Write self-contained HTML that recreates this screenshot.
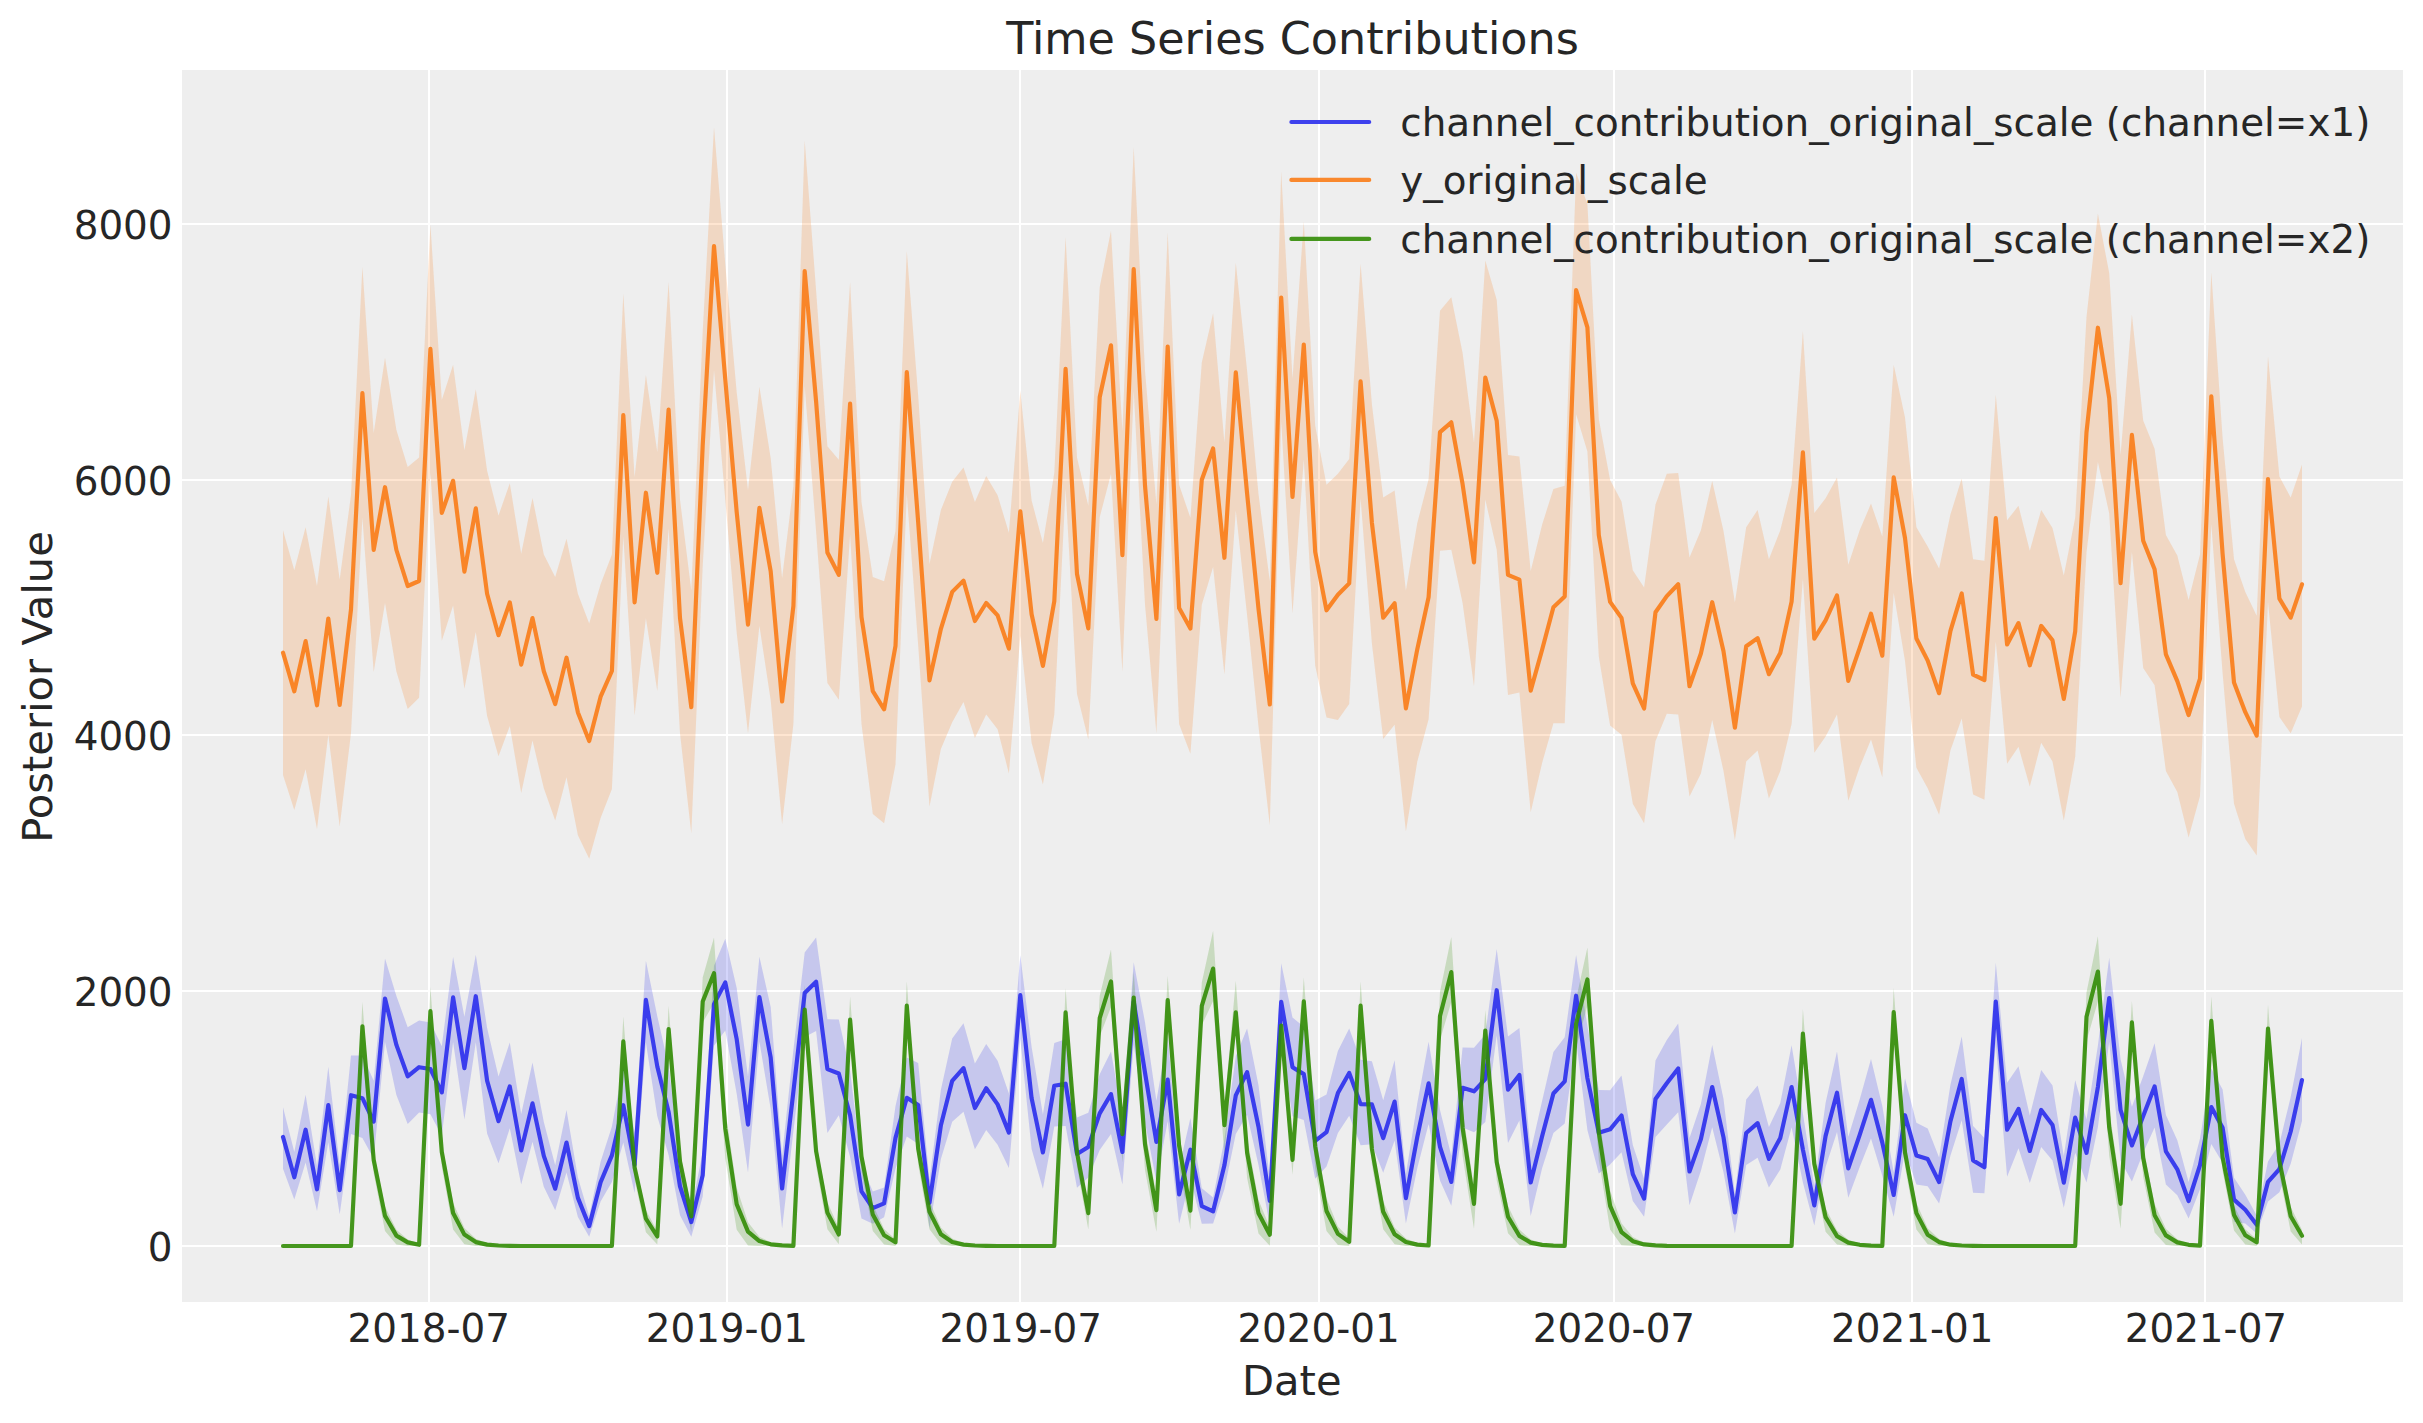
<!DOCTYPE html>
<html lang="en"><head><meta charset="utf-8"><title>Time Series Contributions</title>
<style>html,body{margin:0;padding:0;background:#fff}body{width:2423px;height:1423px;overflow:hidden}</style></head>
<body>
<svg width="2423" height="1423" viewBox="0 0 2423 1423" style="display:block">
<rect x="0" y="0" width="2423" height="1423" fill="#ffffff"/>
<rect x="182.0" y="70.0" width="2221.0" height="1232.0" fill="#eeeeee"/>
<g stroke="#ffffff" stroke-width="2.1" fill="none">
<line x1="429.0" y1="70.0" x2="429.0" y2="1302.0"/>
<line x1="727.0" y1="70.0" x2="727.0" y2="1302.0"/>
<line x1="1020.0" y1="70.0" x2="1020.0" y2="1302.0"/>
<line x1="1319.0" y1="70.0" x2="1319.0" y2="1302.0"/>
<line x1="1614.0" y1="70.0" x2="1614.0" y2="1302.0"/>
<line x1="1912.0" y1="70.0" x2="1912.0" y2="1302.0"/>
<line x1="2205.0" y1="70.0" x2="2205.0" y2="1302.0"/>
<line x1="182.0" y1="1246.0" x2="2403.0" y2="1246.0"/>
<line x1="182.0" y1="991.0" x2="2403.0" y2="991.0"/>
<line x1="182.0" y1="735.0" x2="2403.0" y2="735.0"/>
<line x1="182.0" y1="480.0" x2="2403.0" y2="480.0"/>
<line x1="182.0" y1="224.0" x2="2403.0" y2="224.0"/>
</g>
<clipPath id="c"><rect x="182.0" y="70.0" width="2221.0" height="1232.0"/></clipPath>
<g clip-path="url(#c)">
<polygon points="283.0,1107.3 294.3,1152.1 305.6,1094.7 317.0,1165.7 328.3,1066.7 339.7,1165.3 351.0,1055.6 362.4,1055.5 373.7,1080.8 385.0,958.6 396.4,996.1 407.7,1027.2 419.1,1020.6 430.4,1022.4 441.8,1046.3 453.1,956.9 464.4,1016.7 475.8,954.8 487.1,1027.9 498.5,1076.6 509.8,1042.5 521.2,1113.9 532.5,1062.5 543.8,1122.0 555.2,1165.2 566.5,1110.1 577.9,1177.4 589.2,1216.1 600.6,1161.7 611.9,1126.6 623.3,1066.2 634.6,1133.2 645.9,960.8 657.3,1016.3 668.6,1066.0 680.0,1158.5 691.3,1209.0 702.7,1152.2 714.0,965.8 725.3,938.8 736.7,988.0 748.0,1076.6 759.4,956.7 770.7,1007.0 782.1,1155.7 793.4,1050.0 804.7,952.4 816.1,937.4 827.4,1019.2 838.8,1019.6 850.1,1070.7 861.5,1165.1 872.8,1191.5 884.1,1187.5 895.5,1106.1 906.8,1057.4 918.2,1062.9 929.5,1180.2 940.9,1089.7 952.2,1038.5 963.5,1023.3 974.9,1063.5 986.2,1044.1 997.6,1060.8 1008.9,1093.4 1020.3,955.3 1031.6,1046.9 1042.9,1114.4 1054.3,1043.1 1065.6,1039.2 1077.0,1117.6 1088.3,1112.8 1099.7,1074.3 1111.0,1051.6 1122.4,1116.4 1133.7,962.3 1145.0,1022.2 1156.4,1100.7 1167.7,1036.1 1179.1,1168.0 1190.4,1118.1 1201.8,1188.2 1213.1,1197.4 1224.4,1139.8 1235.8,1056.0 1247.1,1028.5 1258.5,1085.3 1269.8,1178.5 1281.2,963.3 1292.5,1017.5 1303.8,1026.7 1315.2,1100.5 1326.5,1094.4 1337.9,1051.0 1349.2,1028.4 1360.6,1059.7 1371.9,1061.2 1383.2,1100.2 1394.6,1060.2 1405.9,1174.3 1417.3,1103.3 1428.6,1041.7 1440.0,1110.0 1451.3,1155.8 1462.6,1047.5 1474.0,1047.7 1485.3,1034.4 1496.7,949.0 1508.0,1036.6 1519.4,1027.9 1530.7,1151.2 1542.1,1101.0 1553.4,1052.1 1564.7,1037.3 1576.1,955.1 1587.4,1026.0 1598.8,1089.9 1610.1,1090.3 1621.5,1075.4 1632.8,1144.9 1644.1,1178.9 1655.5,1060.6 1666.8,1040.1 1678.2,1023.5 1689.5,1137.9 1700.9,1104.1 1712.2,1045.1 1723.5,1098.9 1734.9,1194.2 1746.2,1099.6 1757.6,1085.4 1768.9,1126.9 1780.3,1103.1 1791.6,1045.2 1802.9,1113.5 1814.3,1185.9 1825.6,1102.8 1837.0,1051.6 1848.3,1136.8 1859.7,1099.5 1871.0,1058.9 1882.3,1105.9 1893.7,1172.3 1905.0,1078.3 1916.4,1122.8 1927.7,1128.6 1939.1,1157.5 1950.4,1085.1 1961.7,1036.5 1973.1,1125.9 1984.4,1138.0 1995.8,962.8 2007.1,1082.8 2018.5,1066.2 2029.8,1115.5 2041.2,1070.0 2052.5,1085.6 2063.8,1156.0 2075.2,1080.3 2086.5,1119.6 2097.9,1045.5 2109.2,957.8 2120.6,1059.6 2131.9,1106.7 2143.2,1076.3 2154.6,1043.3 2165.9,1115.1 2177.3,1140.2 2188.6,1182.0 2200.0,1138.5 2211.3,1068.6 2222.6,1089.4 2234.0,1177.7 2245.3,1194.7 2256.7,1215.5 2268.0,1161.5 2279.4,1143.8 2290.7,1096.9 2302.0,1037.9 2302.0,1120.9 2290.7,1163.8 2279.4,1192.3 2268.0,1201.4 2256.7,1233.4 2245.3,1223.6 2234.0,1221.8 2222.6,1162.7 2211.3,1143.9 2200.0,1189.3 2188.6,1218.5 2177.3,1195.3 2165.9,1184.6 2154.6,1127.4 2143.2,1152.8 2131.9,1181.5 2120.6,1160.7 2109.2,1042.1 2097.9,1127.1 2086.5,1182.5 2075.2,1152.8 2063.8,1207.7 2052.5,1160.5 2041.2,1147.1 2029.8,1183.0 2018.5,1148.3 2007.1,1176.7 1995.8,1043.9 1984.4,1193.2 1973.1,1192.7 1961.7,1120.3 1950.4,1155.7 1939.1,1203.6 1927.7,1186.3 1916.4,1184.6 1905.0,1150.7 1893.7,1216.7 1882.3,1175.8 1871.0,1138.5 1859.7,1167.0 1848.3,1197.7 1837.0,1132.1 1825.6,1167.1 1814.3,1225.5 1802.9,1182.6 1791.6,1127.2 1780.3,1169.5 1768.9,1187.5 1757.6,1157.7 1746.2,1164.9 1734.9,1233.4 1723.5,1172.3 1712.2,1127.2 1700.9,1170.8 1689.5,1205.3 1678.2,1112.2 1666.8,1124.5 1655.5,1137.1 1644.1,1216.8 1632.8,1201.1 1621.5,1152.3 1610.1,1164.6 1598.8,1173.6 1587.4,1129.9 1576.1,1040.3 1564.7,1123.5 1553.4,1133.0 1542.1,1168.2 1530.7,1216.0 1519.4,1120.4 1508.0,1143.0 1496.7,1035.4 1485.3,1121.9 1474.0,1132.3 1462.6,1127.4 1451.3,1205.8 1440.0,1180.4 1428.6,1123.9 1417.3,1168.1 1405.9,1223.4 1394.6,1140.4 1383.2,1172.7 1371.9,1144.2 1360.6,1145.3 1349.2,1115.8 1337.9,1133.0 1326.5,1166.4 1315.2,1178.8 1303.8,1119.9 1292.5,1116.2 1281.2,1043.7 1269.8,1225.0 1258.5,1164.9 1247.1,1114.7 1235.8,1134.0 1224.4,1189.3 1213.1,1223.6 1201.8,1223.7 1190.4,1178.3 1179.1,1223.7 1167.7,1121.3 1156.4,1181.6 1145.0,1122.3 1133.7,1044.4 1122.4,1184.4 1111.0,1134.1 1099.7,1149.9 1088.3,1177.4 1077.0,1187.8 1065.6,1126.0 1054.3,1126.4 1042.9,1188.8 1031.6,1149.1 1020.3,1038.7 1008.9,1168.1 997.6,1144.7 986.2,1130.0 974.9,1149.3 963.5,1111.8 952.2,1121.8 940.9,1158.9 929.5,1228.0 918.2,1144.1 906.8,1136.4 895.5,1168.7 884.1,1217.3 872.8,1223.7 861.5,1218.6 850.1,1156.9 838.8,1115.3 827.4,1133.1 816.1,1031.0 804.7,1037.1 793.4,1131.1 782.1,1228.6 770.7,1108.9 759.4,1041.5 748.0,1172.5 736.7,1093.8 725.3,1030.5 714.0,1045.8 702.7,1196.6 691.3,1236.7 680.0,1215.2 668.6,1155.1 657.3,1116.2 645.9,1042.4 634.6,1193.0 623.3,1142.5 611.9,1182.0 600.6,1201.6 589.2,1236.7 577.9,1217.0 566.5,1172.4 555.2,1210.2 543.8,1186.7 532.5,1141.7 521.2,1184.4 509.8,1128.3 498.5,1163.2 487.1,1133.5 475.8,1042.3 464.4,1119.6 453.1,1042.0 441.8,1135.8 430.4,1114.2 419.1,1112.6 407.7,1124.0 396.4,1095.1 385.0,1042.0 373.7,1158.7 362.4,1138.0 351.0,1133.9 339.7,1214.2 328.3,1142.3 317.0,1211.1 305.6,1162.4 294.3,1199.6 283.0,1168.7" fill="#2a2eec" fill-opacity="0.2" stroke="none"/>
<polygon points="283.0,530.3 294.3,570.2 305.6,527.2 317.0,585.9 328.3,496.4 339.7,579.6 351.0,494.9 362.4,266.8 373.7,433.1 385.0,357.8 396.4,429.9 407.7,466.9 419.1,457.5 430.4,224.5 441.8,400.1 453.1,364.7 464.4,450.3 475.8,389.2 487.1,470.7 498.5,515.6 509.8,483.3 521.2,553.8 532.5,498.0 543.8,554.5 555.2,577.1 566.5,538.8 577.9,593.7 589.2,623.5 600.6,584.3 611.9,554.5 623.3,293.5 634.6,477.0 645.9,375.0 657.3,451.9 668.6,281.9 680.0,499.7 691.3,590.6 702.7,331.5 714.0,127.3 725.3,264.5 736.7,392.3 748.0,490.2 759.4,386.7 770.7,458.2 782.1,578.0 793.4,485.9 804.7,140.4 816.1,290.4 827.4,446.2 838.8,459.7 850.1,281.9 861.5,502.2 872.8,577.1 884.1,581.2 895.5,531.0 906.8,251.1 918.2,396.0 929.5,563.9 940.9,509.9 952.2,481.7 963.5,467.6 974.9,502.1 986.2,476.0 997.6,495.2 1008.9,532.8 1020.3,390.7 1031.6,500.5 1042.9,542.9 1054.3,472.9 1065.6,237.0 1077.0,457.5 1088.3,505.8 1099.7,287.2 1111.0,230.8 1122.4,431.1 1133.7,147.0 1145.0,370.8 1156.4,504.5 1167.7,232.3 1179.1,484.8 1190.4,517.8 1201.8,362.5 1213.1,313.2 1224.4,442.4 1235.8,262.7 1247.1,370.7 1258.5,494.0 1269.8,581.2 1281.2,171.2 1292.5,378.7 1303.8,221.4 1315.2,425.7 1326.5,484.8 1337.9,473.8 1349.2,459.1 1360.6,263.7 1371.9,404.2 1383.2,497.4 1394.6,490.5 1405.9,590.6 1417.3,523.1 1428.6,479.2 1440.0,310.7 1451.3,297.3 1462.6,353.1 1474.0,442.5 1485.3,260.6 1496.7,299.8 1508.0,455.0 1519.4,456.6 1530.7,571.1 1542.1,524.7 1553.4,488.9 1564.7,485.8 1576.1,172.7 1587.4,204.1 1598.8,419.0 1610.1,480.1 1621.5,501.4 1632.8,570.2 1644.1,587.4 1655.5,504.6 1666.8,473.8 1678.2,472.9 1689.5,557.6 1700.9,530.3 1712.2,481.1 1723.5,531.0 1734.9,602.5 1746.2,527.2 1757.6,509.9 1768.9,559.2 1780.3,530.3 1791.6,484.8 1802.9,331.1 1814.3,513.1 1825.6,498.3 1837.0,477.6 1848.3,564.8 1859.7,530.3 1871.0,503.6 1882.3,536.6 1893.7,364.7 1905.0,417.4 1916.4,527.2 1927.7,546.6 1939.1,568.6 1950.4,514.6 1961.7,478.6 1973.1,559.2 1984.4,560.8 1995.8,394.8 2007.1,520.3 2018.5,505.8 2029.8,550.7 2041.2,509.9 2052.5,528.1 2063.8,575.5 2075.2,517.8 2086.5,317.0 2097.9,213.5 2109.2,273.1 2120.6,455.0 2131.9,314.5 2143.2,420.5 2154.6,448.8 2165.9,535.0 2177.3,555.4 2188.6,600.0 2200.0,554.5 2211.3,272.2 2222.6,438.0 2234.0,559.2 2245.3,592.1 2256.7,615.7 2268.0,356.2 2279.4,476.4 2290.7,497.4 2302.0,464.4 2302.0,706.6 2290.7,733.3 2279.4,717.0 2268.0,601.9 2256.7,855.6 2245.3,839.0 2234.0,803.8 2222.6,673.2 2211.3,524.2 2200.0,796.0 2188.6,837.4 2177.3,791.9 2165.9,770.9 2154.6,685.3 2143.2,668.0 2131.9,551.9 2120.6,697.8 2109.2,513.4 2097.9,462.0 2086.5,552.3 2075.2,756.8 2063.8,820.5 2052.5,761.5 2041.2,742.7 2029.8,786.6 2018.5,746.8 2007.1,763.7 1995.8,641.6 1984.4,799.8 1973.1,794.4 1961.7,718.5 1950.4,750.5 1939.1,814.8 1927.7,788.2 1916.4,767.8 1905.0,661.1 1893.7,593.1 1882.3,777.2 1871.0,739.5 1859.7,767.1 1848.3,800.7 1837.0,714.5 1825.6,736.4 1814.3,752.7 1802.9,578.9 1791.6,723.9 1780.3,770.9 1768.9,798.5 1757.6,750.5 1746.2,761.5 1734.9,839.9 1723.5,770.9 1712.2,720.1 1700.9,773.4 1689.5,796.6 1678.2,714.5 1666.8,713.8 1655.5,741.1 1644.1,823.3 1632.8,803.8 1621.5,734.8 1610.1,725.4 1598.8,656.4 1587.4,451.5 1576.1,414.3 1564.7,723.2 1553.4,723.2 1542.1,763.1 1530.7,812.3 1519.4,692.5 1508.0,695.0 1496.7,549.8 1485.3,499.6 1474.0,686.2 1462.6,603.1 1451.3,549.8 1440.0,550.7 1428.6,719.2 1417.3,761.5 1405.9,831.5 1394.6,724.8 1383.2,738.9 1371.9,643.6 1360.6,498.3 1349.2,704.1 1337.9,720.1 1326.5,717.6 1315.2,665.8 1303.8,459.5 1292.5,613.5 1281.2,421.4 1269.8,825.2 1258.5,726.6 1247.1,615.3 1235.8,510.6 1224.4,674.6 1213.1,567.0 1201.8,604.7 1190.4,753.7 1179.1,723.9 1167.7,462.7 1156.4,733.3 1145.0,604.6 1133.7,391.0 1122.4,672.1 1111.0,473.9 1099.7,517.2 1088.3,739.5 1077.0,694.1 1065.6,488.8 1054.3,714.5 1042.9,784.4 1031.6,742.7 1020.3,636.0 1008.9,773.4 997.6,729.2 986.2,714.5 974.9,738.0 963.5,701.9 952.2,722.3 940.9,749.0 929.5,806.4 918.2,645.4 906.8,494.1 895.5,764.6 884.1,823.3 872.8,813.9 861.5,723.9 850.1,534.8 838.8,699.7 827.4,683.1 816.1,531.6 804.7,386.2 793.4,723.9 782.1,824.2 770.7,700.3 759.4,625.7 748.0,733.3 736.7,632.8 725.3,500.0 714.0,370.2 702.7,566.3 691.3,833.6 680.0,733.3 668.6,528.4 657.3,690.9 645.9,618.2 634.6,715.4 623.3,536.4 611.9,789.1 600.6,818.0 589.2,858.7 577.9,835.2 566.5,777.2 555.2,820.5 543.8,788.2 532.5,740.5 521.2,792.9 509.8,726.1 498.5,756.2 487.1,716.0 475.8,632.0 464.4,688.7 453.1,605.6 441.8,640.7 430.4,473.1 419.1,697.8 407.7,709.1 396.4,671.5 385.0,603.1 373.7,672.1 362.4,517.8 351.0,733.3 339.7,826.4 328.3,734.8 317.0,828.9 305.6,769.3 294.3,810.1 283.0,775.0" fill="#fa7c17" fill-opacity="0.2" stroke="none"/>
<polygon points="283.0,1246.0 294.3,1246.0 305.6,1246.0 317.0,1246.0 328.3,1246.0 339.7,1246.0 351.0,1246.0 362.4,1001.8 373.7,1152.4 385.0,1206.5 396.4,1229.7 407.7,1239.5 419.1,1243.4 430.4,986.9 441.8,1143.3 453.1,1202.7 464.4,1228.1 475.8,1238.8 487.1,1243.2 498.5,1244.9 509.8,1245.6 521.2,1246.0 532.5,1246.0 543.8,1246.0 555.2,1246.0 566.5,1246.0 577.9,1246.0 589.2,1246.0 600.6,1246.0 611.9,1246.0 623.3,1016.6 634.6,1160.7 645.9,1210.0 657.3,1231.2 668.6,1005.8 680.0,1153.2 691.3,1206.7 702.7,977.5 714.0,937.5 725.3,1109.6 736.7,1187.8 748.0,1222.2 759.4,1236.7 770.7,1242.3 782.1,1244.6 793.4,1245.6 804.7,985.1 816.1,1142.5 827.4,1202.2 838.8,1227.9 850.1,996.5 861.5,1147.7 872.8,1204.4 884.1,1228.9 895.5,1239.3 906.8,981.3 918.2,1139.7 929.5,1200.9 940.9,1227.6 952.2,1238.6 963.5,1243.1 974.9,1244.9 986.2,1245.6 997.6,1246.0 1008.9,1246.0 1020.3,1246.0 1031.6,1246.0 1042.9,1246.0 1054.3,1246.0 1065.6,988.1 1077.0,1144.3 1088.3,1203.0 1099.7,995.9 1111.0,949.6 1122.4,1116.5 1133.7,971.5 1145.0,1128.5 1156.4,1196.3 1167.7,975.7 1179.1,1133.8 1190.4,1198.5 1201.8,982.4 1213.1,930.7 1224.4,1106.0 1235.8,980.7 1247.1,1137.3 1258.5,1200.1 1269.8,1227.3 1281.2,1002.7 1292.5,1151.2 1303.8,977.2 1315.2,1133.2 1326.5,1198.2 1337.9,1226.4 1349.2,1238.2 1360.6,981.3 1371.9,1139.7 1383.2,1201.0 1394.6,1227.6 1405.9,1238.6 1417.3,1243.1 1428.6,1244.9 1440.0,991.7 1451.3,937.0 1462.6,1110.1 1474.0,1188.0 1485.3,1009.9 1496.7,1151.6 1508.0,1206.0 1519.4,1229.6 1530.7,1239.6 1542.1,1243.6 1553.4,1245.1 1564.7,1245.7 1576.1,999.3 1587.4,947.6 1598.8,1116.0 1610.1,1190.6 1621.5,1223.3 1632.8,1237.0 1644.1,1242.5 1655.5,1244.6 1666.8,1245.6 1678.2,1246.0 1689.5,1246.0 1700.9,1246.0 1712.2,1246.0 1723.5,1246.0 1734.9,1246.0 1746.2,1246.0 1757.6,1246.0 1768.9,1246.0 1780.3,1246.0 1791.6,1246.0 1802.9,1009.1 1814.3,1156.6 1825.6,1208.2 1837.0,1230.4 1848.3,1239.8 1859.7,1243.5 1871.0,1245.1 1882.3,1245.6 1893.7,987.7 1905.0,1144.0 1916.4,1202.9 1927.7,1228.2 1939.1,1238.9 1950.4,1243.2 1961.7,1244.9 1973.1,1245.6 1984.4,1246.0 1995.8,1246.0 2007.1,1246.0 2018.5,1246.0 2029.8,1246.0 2041.2,1246.0 2052.5,1246.0 2063.8,1246.0 2075.2,1246.0 2086.5,992.4 2097.9,936.2 2109.2,1109.6 2120.6,1187.8 2131.9,1001.1 2143.2,1147.1 2154.6,1204.1 2165.9,1228.8 2177.3,1239.3 2188.6,1243.5 2200.0,1245.0 2211.3,996.6 2222.6,1149.4 2234.0,1205.2 2245.3,1229.2 2256.7,1239.3 2268.0,1004.6 2279.4,1153.3 2290.7,1206.8 2302.0,1230.0 2302.0,1244.5 2290.7,1231.4 2279.4,1174.9 2268.0,1051.4 2256.7,1246.0 2245.3,1244.4 2234.0,1230.5 2222.6,1170.9 2211.3,1044.9 2200.0,1246.0 2188.6,1246.0 2177.3,1246.0 2165.9,1245.1 2154.6,1232.6 2143.2,1176.9 2131.9,1038.0 2120.6,1228.7 2109.2,1155.4 2097.9,1001.6 2086.5,1040.9 2075.2,1246.0 2063.8,1246.0 2052.5,1246.0 2041.2,1246.0 2029.8,1246.0 2018.5,1246.0 2007.1,1246.0 1995.8,1246.0 1984.4,1246.0 1973.1,1246.0 1961.7,1246.0 1950.4,1246.0 1939.1,1246.0 1927.7,1244.3 1916.4,1229.6 1905.0,1166.8 1893.7,1036.4 1882.3,1246.0 1871.0,1246.0 1859.7,1246.0 1848.3,1246.0 1837.0,1244.5 1825.6,1231.7 1814.3,1176.4 1802.9,1058.1 1791.6,1246.0 1780.3,1246.0 1768.9,1246.0 1757.6,1246.0 1746.2,1246.0 1734.9,1246.0 1723.5,1246.0 1712.2,1246.0 1700.9,1246.0 1689.5,1246.0 1678.2,1246.0 1666.8,1246.0 1655.5,1246.0 1644.1,1246.0 1632.8,1246.0 1621.5,1245.2 1610.1,1229.6 1598.8,1159.7 1587.4,1005.6 1576.1,1047.9 1564.7,1246.0 1553.4,1246.0 1542.1,1246.0 1530.7,1246.0 1519.4,1245.2 1508.0,1233.3 1496.7,1180.4 1485.3,1045.2 1474.0,1228.8 1462.6,1155.8 1451.3,1001.9 1440.0,1040.0 1428.6,1246.0 1417.3,1246.0 1405.9,1246.0 1394.6,1244.3 1383.2,1229.2 1371.9,1164.5 1360.6,1029.1 1349.2,1246.0 1337.9,1245.1 1326.5,1231.0 1315.2,1168.6 1303.8,1019.7 1292.5,1174.8 1281.2,1046.5 1269.8,1245.7 1258.5,1233.6 1247.1,1178.1 1235.8,1026.2 1224.4,1155.6 1213.1,1000.9 1201.8,1025.3 1190.4,1229.9 1179.1,1165.5 1167.7,1020.3 1156.4,1231.8 1145.0,1169.9 1133.7,1016.3 1122.4,1162.5 1111.0,1007.0 1099.7,1036.4 1088.3,1229.6 1077.0,1167.0 1065.6,1036.7 1054.3,1246.0 1042.9,1246.0 1031.6,1246.0 1020.3,1246.0 1008.9,1246.0 997.6,1246.0 986.2,1246.0 974.9,1246.0 963.5,1246.0 952.2,1246.0 940.9,1244.3 929.5,1229.2 918.2,1164.5 906.8,1029.3 895.5,1246.0 884.1,1244.6 872.8,1231.0 861.5,1172.1 850.1,1041.0 838.8,1244.3 827.4,1229.3 816.1,1165.7 804.7,1034.0 793.4,1246.0 782.1,1246.0 770.7,1246.0 759.4,1246.0 748.0,1245.5 736.7,1229.7 725.3,1158.6 714.0,1003.1 702.7,1022.5 691.3,1231.8 680.0,1175.9 668.6,1050.6 657.3,1244.6 645.9,1232.3 634.6,1179.6 623.3,1065.9 611.9,1246.0 600.6,1246.0 589.2,1246.0 577.9,1246.0 566.5,1246.0 555.2,1246.0 543.8,1246.0 532.5,1246.0 521.2,1246.0 509.8,1246.0 498.5,1246.0 487.1,1246.0 475.8,1246.0 464.4,1244.3 453.1,1229.5 441.8,1166.7 430.4,1035.0 419.1,1246.0 407.7,1246.0 396.4,1244.5 385.0,1231.0 373.7,1173.2 362.4,1050.5 351.0,1246.0 339.7,1246.0 328.3,1246.0 317.0,1246.0 305.6,1246.0 294.3,1246.0 283.0,1246.0" fill="#328c06" fill-opacity="0.2" stroke="none"/>
<polyline points="283.0,1136.9 294.3,1177.3 305.6,1129.7 317.0,1189.3 328.3,1105.1 339.7,1190.1 351.0,1095.2 362.4,1098.2 373.7,1121.6 385.0,998.5 396.4,1044.9 407.7,1076.3 419.1,1067.2 430.4,1069.0 441.8,1092.4 453.1,997.4 464.4,1068.1 475.8,996.2 487.1,1080.6 498.5,1121.2 509.8,1086.5 521.2,1150.5 532.5,1103.4 543.8,1155.9 555.2,1188.7 566.5,1142.5 577.9,1197.9 589.2,1226.1 600.6,1182.3 611.9,1155.4 623.3,1105.2 634.6,1164.6 645.9,999.9 657.3,1066.5 668.6,1111.9 680.0,1186.4 691.3,1222.0 702.7,1175.3 714.0,1004.1 725.3,982.4 736.7,1039.2 748.0,1124.6 759.4,997.1 770.7,1057.7 782.1,1188.5 793.4,1091.4 804.7,992.9 816.1,981.7 827.4,1069.1 838.8,1073.5 850.1,1115.3 861.5,1191.3 872.8,1208.1 884.1,1203.4 895.5,1137.9 906.8,1097.8 918.2,1105.0 929.5,1202.8 940.9,1125.3 952.2,1080.8 963.5,1068.1 974.9,1108.0 986.2,1088.3 997.6,1104.4 1008.9,1132.6 1020.3,995.2 1031.6,1098.2 1042.9,1152.5 1054.3,1085.7 1065.6,1083.7 1077.0,1153.9 1088.3,1146.9 1099.7,1113.4 1111.0,1094.1 1122.4,1152.0 1133.7,1001.6 1145.0,1072.7 1156.4,1142.0 1167.7,1079.6 1179.1,1194.4 1190.4,1149.7 1201.8,1206.2 1213.1,1211.3 1224.4,1165.3 1235.8,1095.4 1247.1,1072.2 1258.5,1126.8 1269.8,1201.0 1281.2,1001.8 1292.5,1067.2 1303.8,1074.1 1315.2,1140.9 1326.5,1132.2 1337.9,1093.1 1349.2,1072.9 1360.6,1104.1 1371.9,1104.3 1383.2,1138.2 1394.6,1101.6 1405.9,1198.1 1417.3,1136.9 1428.6,1083.4 1440.0,1146.8 1451.3,1181.9 1462.6,1087.8 1474.0,1091.3 1485.3,1079.1 1496.7,990.2 1508.0,1089.6 1519.4,1075.0 1530.7,1182.5 1542.1,1136.2 1553.4,1093.5 1564.7,1081.4 1576.1,995.7 1587.4,1078.1 1598.8,1132.8 1610.1,1129.3 1621.5,1115.5 1632.8,1174.1 1644.1,1198.7 1655.5,1099.0 1666.8,1083.2 1678.2,1068.5 1689.5,1171.5 1700.9,1139.1 1712.2,1087.0 1723.5,1137.4 1734.9,1212.4 1746.2,1133.0 1757.6,1123.1 1768.9,1158.9 1780.3,1137.9 1791.6,1087.0 1802.9,1149.6 1814.3,1205.4 1825.6,1135.9 1837.0,1092.7 1848.3,1168.4 1859.7,1134.9 1871.0,1099.8 1882.3,1142.6 1893.7,1195.0 1905.0,1115.2 1916.4,1155.5 1927.7,1159.1 1939.1,1182.0 1950.4,1121.4 1961.7,1079.0 1973.1,1160.4 1984.4,1167.2 1995.8,1001.7 2007.1,1129.7 2018.5,1108.9 2029.8,1150.9 2041.2,1109.9 2052.5,1124.9 2063.8,1182.7 2075.2,1117.6 2086.5,1152.8 2097.9,1087.0 2109.2,998.0 2120.6,1110.2 2131.9,1145.4 2143.2,1116.1 2154.6,1086.4 2165.9,1151.3 2177.3,1169.3 2188.6,1201.0 2200.0,1165.1 2211.3,1107.0 2222.6,1127.8 2234.0,1199.6 2245.3,1209.8 2256.7,1224.8 2268.0,1181.9 2279.4,1169.2 2290.7,1131.5 2302.0,1080.0" fill="none" stroke="#2a2eec" stroke-opacity="0.9" stroke-width="4.17" stroke-linecap="round" stroke-linejoin="round"/>
<polyline points="283.0,652.7 294.3,691.3 305.6,641.1 317.0,705.3 328.3,618.5 339.7,704.9 351.0,609.5 362.4,393.1 373.7,549.9 385.0,487.2 396.4,550.0 407.7,586.0 419.1,581.0 430.4,348.9 441.8,512.9 453.1,480.8 464.4,571.6 475.8,508.3 487.1,593.8 498.5,635.2 509.8,602.4 521.2,664.6 532.5,618.1 543.8,671.2 555.2,704.1 566.5,657.7 577.9,712.4 589.2,741.0 600.6,696.7 611.9,671.0 623.3,415.2 634.6,602.3 645.9,492.7 657.3,572.8 668.6,409.6 680.0,618.0 691.3,707.2 702.7,445.5 714.0,246.0 725.3,379.6 736.7,512.1 748.0,624.6 759.4,507.9 770.7,571.4 782.1,701.5 793.4,606.1 804.7,271.1 816.1,401.5 827.4,552.5 838.8,574.9 850.1,403.7 861.5,617.0 872.8,691.1 884.1,709.3 895.5,645.8 906.8,372.1 918.2,522.6 929.5,680.3 940.9,628.8 952.2,591.9 963.5,580.6 974.9,621.0 986.2,603.0 997.6,615.4 1008.9,648.7 1020.3,511.3 1031.6,614.3 1042.9,665.9 1054.3,601.1 1065.6,368.9 1077.0,574.0 1088.3,628.4 1099.7,397.3 1111.0,345.3 1122.4,555.2 1133.7,269.2 1145.0,485.5 1156.4,618.9 1167.7,346.7 1179.1,608.1 1190.4,628.5 1201.8,479.7 1213.1,448.5 1224.4,557.8 1235.8,372.4 1247.1,493.5 1258.5,608.7 1269.8,704.4 1281.2,297.5 1292.5,496.8 1303.8,344.5 1315.2,551.8 1326.5,610.3 1337.9,594.8 1349.2,583.4 1360.6,381.3 1371.9,522.7 1383.2,617.7 1394.6,603.2 1405.9,708.4 1417.3,649.2 1428.6,597.1 1440.0,432.1 1451.3,422.3 1462.6,484.2 1474.0,562.4 1485.3,377.6 1496.7,420.7 1508.0,574.9 1519.4,579.6 1530.7,690.6 1542.1,649.8 1553.4,607.2 1564.7,596.5 1576.1,290.0 1587.4,327.3 1598.8,535.2 1610.1,601.9 1621.5,617.9 1632.8,683.4 1644.1,708.5 1655.5,612.3 1666.8,596.1 1678.2,584.3 1689.5,686.2 1700.9,653.5 1712.2,602.2 1723.5,651.2 1734.9,727.6 1746.2,646.2 1757.6,638.1 1768.9,674.2 1780.3,653.0 1791.6,601.6 1802.9,452.4 1814.3,638.7 1825.6,620.3 1837.0,595.4 1848.3,680.9 1859.7,647.9 1871.0,613.7 1882.3,655.7 1893.7,477.4 1905.0,538.0 1916.4,638.5 1927.7,660.6 1939.1,693.2 1950.4,631.1 1961.7,593.5 1973.1,674.7 1984.4,680.0 1995.8,518.1 2007.1,644.5 2018.5,623.1 2029.8,665.3 2041.2,625.9 2052.5,640.3 2063.8,698.9 2075.2,631.3 2086.5,432.2 2097.9,327.7 2109.2,398.1 2120.6,583.1 2131.9,434.9 2143.2,540.8 2154.6,569.2 2165.9,654.4 2177.3,681.1 2188.6,715.1 2200.0,678.7 2211.3,396.4 2222.6,553.8 2234.0,682.5 2245.3,712.2 2256.7,735.6 2268.0,479.2 2279.4,598.6 2290.7,617.6 2302.0,584.3" fill="none" stroke="#fa7c17" stroke-opacity="0.9" stroke-width="4.17" stroke-linecap="round" stroke-linejoin="round"/>
<polyline points="283.0,1246.0 294.3,1246.0 305.6,1246.0 317.0,1246.0 328.3,1246.0 339.7,1246.0 351.0,1246.0 362.4,1026.3 373.7,1160.0 385.0,1215.9 396.4,1235.6 407.7,1242.4 419.1,1244.8 430.4,1011.1 441.8,1152.0 453.1,1213.0 464.4,1234.6 475.8,1242.1 487.1,1244.6 498.5,1245.5 509.8,1245.8 521.2,1246.0 532.5,1246.0 543.8,1246.0 555.2,1246.0 566.5,1246.0 577.9,1246.0 589.2,1246.0 600.6,1246.0 611.9,1246.0 623.3,1041.4 634.6,1167.5 645.9,1218.6 657.3,1236.5 668.6,1029.0 680.0,1161.4 691.3,1216.4 702.7,1001.6 714.0,973.2 725.3,1128.5 736.7,1204.2 748.0,1231.6 759.4,1241.1 770.7,1244.3 782.1,1245.4 793.4,1245.9 804.7,1009.6 816.1,1151.1 827.4,1212.6 838.8,1234.5 850.1,1019.7 861.5,1156.6 872.8,1214.6 884.1,1235.2 895.5,1242.3 906.8,1005.6 918.2,1148.9 929.5,1211.8 940.9,1234.3 952.2,1242.0 963.5,1244.6 974.9,1245.5 986.2,1245.8 997.6,1246.0 1008.9,1246.0 1020.3,1246.0 1031.6,1246.0 1042.9,1246.0 1054.3,1246.0 1065.6,1012.4 1077.0,1152.7 1088.3,1213.2 1099.7,1018.1 1111.0,981.4 1122.4,1134.1 1133.7,997.5 1145.0,1144.2 1156.4,1210.1 1167.7,1000.0 1179.1,1145.7 1190.4,1210.7 1201.8,1005.8 1213.1,968.6 1224.4,1125.2 1235.8,1012.3 1247.1,1152.6 1258.5,1213.3 1269.8,1234.7 1281.2,1025.7 1292.5,1159.8 1303.8,1001.4 1315.2,1146.5 1326.5,1211.0 1337.9,1233.9 1349.2,1241.8 1360.6,1005.6 1371.9,1149.0 1383.2,1211.8 1394.6,1234.3 1405.9,1242.0 1417.3,1244.6 1428.6,1245.5 1440.0,1016.0 1451.3,972.1 1462.6,1127.7 1474.0,1203.9 1485.3,1030.5 1496.7,1162.1 1508.0,1216.7 1519.4,1235.9 1530.7,1242.6 1542.1,1244.9 1553.4,1245.6 1564.7,1245.9 1576.1,1023.7 1587.4,979.4 1598.8,1132.8 1610.1,1205.8 1621.5,1232.1 1632.8,1241.2 1644.1,1244.4 1655.5,1245.4 1666.8,1245.9 1678.2,1246.0 1689.5,1246.0 1700.9,1246.0 1712.2,1246.0 1723.5,1246.0 1734.9,1246.0 1746.2,1246.0 1757.6,1246.0 1768.9,1246.0 1780.3,1246.0 1791.6,1246.0 1802.9,1033.7 1814.3,1163.8 1825.6,1217.2 1837.0,1236.1 1848.3,1242.6 1859.7,1244.8 1871.0,1245.6 1882.3,1245.9 1893.7,1012.1 1905.0,1152.5 1916.4,1213.1 1927.7,1234.7 1939.1,1242.1 1950.4,1244.7 1961.7,1245.5 1973.1,1245.8 1984.4,1246.0 1995.8,1246.0 2007.1,1246.0 2018.5,1246.0 2029.8,1246.0 2041.2,1246.0 2052.5,1246.0 2063.8,1246.0 2075.2,1246.0 2086.5,1016.7 2097.9,971.5 2109.2,1127.3 2120.6,1203.8 2131.9,1022.4 2143.2,1158.0 2154.6,1215.2 2165.9,1235.4 2177.3,1242.4 2188.6,1244.8 2200.0,1245.6 2211.3,1020.9 2222.6,1157.3 2234.0,1214.9 2245.3,1235.3 2256.7,1242.3 2268.0,1028.5 2279.4,1161.2 2290.7,1216.3 2302.0,1235.8" fill="none" stroke="#328c06" stroke-opacity="0.9" stroke-width="4.17" stroke-linecap="round" stroke-linejoin="round"/>
</g>
<g fill="#262626" style="font-family:'DejaVu Sans','Liberation Sans',sans-serif">
<text x="1292.5" y="54.0" font-size="44.44" text-anchor="middle">Time Series Contributions</text>
<text x="428.8" y="1342.3" font-size="38.89" text-anchor="middle">2018-07</text>
<text x="726.9" y="1342.3" font-size="38.89" text-anchor="middle">2019-01</text>
<text x="1020.8" y="1342.3" font-size="38.89" text-anchor="middle">2019-07</text>
<text x="1318.6" y="1342.3" font-size="38.89" text-anchor="middle">2020-01</text>
<text x="1613.9" y="1342.3" font-size="38.89" text-anchor="middle">2020-07</text>
<text x="1912.3" y="1342.3" font-size="38.89" text-anchor="middle">2021-01</text>
<text x="2205.9" y="1342.3" font-size="38.89" text-anchor="middle">2021-07</text>
<text x="172.6" y="1261.4" font-size="38.89" text-anchor="end">0</text>
<text x="172.6" y="1005.9" font-size="38.89" text-anchor="end">2000</text>
<text x="172.6" y="750.4" font-size="38.89" text-anchor="end">4000</text>
<text x="172.6" y="494.9" font-size="38.89" text-anchor="end">6000</text>
<text x="172.6" y="239.4" font-size="38.89" text-anchor="end">8000</text>
<text x="1291.8" y="1395.3" font-size="41.67" text-anchor="middle">Date</text>
<text transform="translate(51.6,687.0) rotate(-90)" font-size="41.67" text-anchor="middle">Posterior Value</text>
<line x1="1291.4" y1="122.0" x2="1369.2" y2="122.0" stroke="#2a2eec" stroke-opacity="0.9" stroke-width="4.17" stroke-linecap="round"/>
<text x="1400.3" y="136.40" font-size="38.89">channel_contribution_original_scale (channel=x1)</text>
<line x1="1291.4" y1="179.9" x2="1369.2" y2="179.9" stroke="#fa7c17" stroke-opacity="0.9" stroke-width="4.17" stroke-linecap="round"/>
<text x="1400.3" y="194.30" font-size="38.89">y_original_scale</text>
<line x1="1291.4" y1="238.9" x2="1369.2" y2="238.9" stroke="#328c06" stroke-opacity="0.9" stroke-width="4.17" stroke-linecap="round"/>
<text x="1400.3" y="253.05" font-size="38.89">channel_contribution_original_scale (channel=x2)</text>
</g>
</svg>
</body></html>
